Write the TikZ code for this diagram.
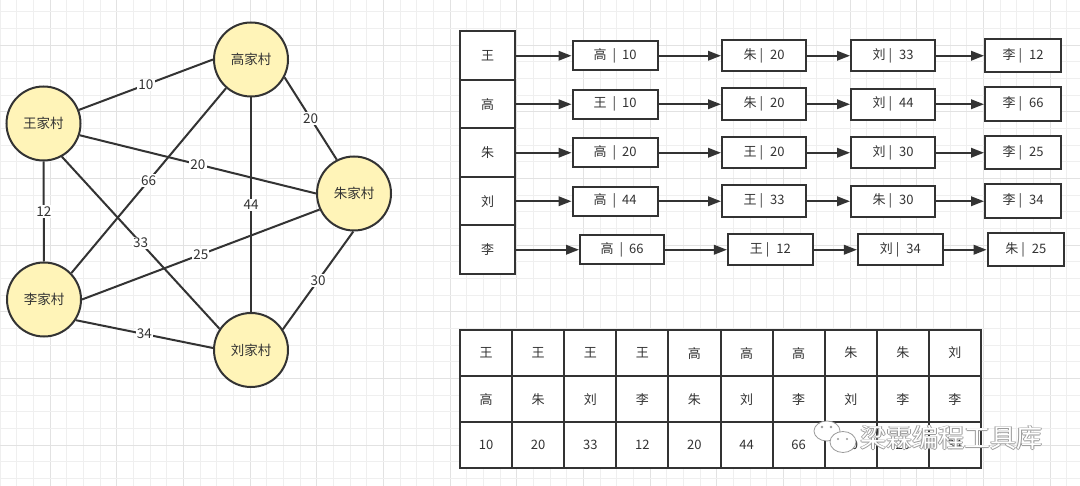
\documentclass[tikz,border=0pt]{standalone}
\usepackage{fontspec}
\setmainfont{Noto Sans CJK SC}
\usetikzlibrary{arrows.meta}
\definecolor{ink}{HTML}{333333}
\definecolor{vfill}{HTML}{FFF4B8}
\definecolor{gminor}{HTML}{EFEFEF}
\definecolor{gmajor}{HTML}{E2E2E2}
\definecolor{wmgray}{HTML}{9A9A9A}
\newcommand\adjA[2]{#1\hspace{6pt}|\hspace{6pt}#2}
\newcommand\adjB[2]{#1\hspace{3pt}|\hspace{7pt}#2}
\begin{document}
\begin{tikzpicture}[x=1pt,y=-1pt,
  village/.style={circle, draw=ink, fill=vfill, line width=2pt, minimum size=74pt, inner sep=0pt, font=\fontsize{13.5}{14}\selectfont, text=ink},
  road/.style={draw=ink, line width=2pt},
  wlabel/.style={fill=white, inner sep=1.2pt, font=\fontsize{13.5}{14}\selectfont, text=ink},
  headcell/.style={rectangle, draw=ink, fill=white, line width=2pt, minimum width=55pt, minimum height=48.5pt, inner sep=0pt, font=\fontsize{13}{14}\selectfont, text=ink},
  edgebox/.style={rectangle, draw=ink, fill=white, line width=2pt, inner sep=0pt, font=\fontsize{13}{14}\selectfont, text=ink},
  link/.style={draw=ink, line width=2pt, -{Triangle[length=13pt,width=9.5pt]}},
  tcell/.style={rectangle, draw=ink, fill=white, line width=2pt, minimum width=52.1pt, minimum height=46.1pt, inner sep=0pt, font=\fontsize{13}{14}\selectfont, text=ink},
  minorline/.style={draw=gminor, line width=0.8pt},
  majorline/.style={draw=gmajor, line width=0.9pt},
  wmtext/.style={inner sep=0pt, font=\fontsize{26}{28}\selectfont},
]
\useasboundingbox (0,0) rectangle (1080,486);
\fill[white] (0,0) rectangle (1080,486);
% background grid
\foreach \i in {0,...,64}{
  \pgfmathsetmacro\gx{\i*16.6667}
  \pgfmathtruncatemacro\m{mod(\i,4)}
  \ifnum\m=3 \draw[majorline] (\gx,0) -- (\gx,486); \else \draw[minorline] (\gx,0) -- (\gx,486); \fi
}
\foreach \j in {0,...,28}{
  \pgfmathsetmacro\gy{11.6667+\j*16.6667}
  \pgfmathtruncatemacro\m{mod(\j,4)}
  \ifnum\m=2 \draw[majorline] (0,\gy) -- (1080,\gy); \else \draw[minorline] (0,\gy) -- (1080,\gy); \fi
}
% graph
\node[village] (gao)  at (251,59.5)  {高家村};
\node[village] (wang) at (43.5,123.5) {王家村};
\node[village] (zhu)  at (354,193.5) {朱家村};
\node[village] (li)   at (44,299.5)  {李家村};
\node[village] (liu)  at (251,350)   {刘家村};
\draw[road] (wang.21)  -- node[wlabel]{10} (gao.180);
\draw[road] (wang.-18) -- node[wlabel]{20} (zhu.180);
\draw[road] (wang.-90) -- node[wlabel]{12} (li.90);
\draw[road] (wang.-61) -- node[wlabel]{33} (liu.146);
\draw[road] (gao.229)  -- node[wlabel]{66} (li.44);
\draw[road] (gao.-90)  -- node[wlabel]{44} (liu.90);
\draw[road] (gao.-28)  -- node[wlabel]{20} (zhu.117);
\draw[road] (zhu.205)  -- node[wlabel]{25} (li.0);
\draw[road] (zhu.-91)  -- node[wlabel]{30} (liu.33);
\draw[road] (li.-33)   -- node[wlabel]{34} (liu.177);
% adjacency list
\foreach \t [count=\r] in {王,高,朱,刘,李}
  \node[headcell] (H\r) at (487.5,{31.5+48.5*(\r-0.5)}) {\t};
\foreach \r/\a/\av/\b/\bv/\c/\cv/\d/\dv in {1/高/10/朱/20/刘/33/李/12, 2/王/10/朱/20/刘/44/李/66, 3/高/20/王/20/刘/30/李/25, 4/高/44/王/33/朱/30/李/34}{
  \pgfmathsetmacro\ry{31.5+48.5*(\r-0.5)}
  \node[edgebox, minimum width=85pt, minimum height=29pt] (B\r-1) at (615,\ry) {\adjA{\a}{\av}};
  \node[edgebox, minimum width=84pt, minimum height=31.5pt] (B\r-2) at (764,\ry) {\adjB{\b}{\bv}};
  \node[edgebox, minimum width=84pt, minimum height=31pt] (B\r-3) at (893,\ry) {\adjB{\c}{\cv}};
  \node[edgebox, minimum width=76pt, minimum height=33.5pt] (B\r-4) at (1023,\ry) {\adjB{\d}{\dv}};
}
\node[edgebox, minimum width=84pt, minimum height=28.5pt] (B5-1) at (622,249.75) {\adjA{高}{66}};
\node[edgebox, minimum width=84.7pt, minimum height=31.5pt] (B5-2) at (770.3,249.75) {\adjB{王}{12}};
\node[edgebox, minimum width=84.7pt, minimum height=31pt] (B5-3) at (900.3,249.75) {\adjB{刘}{34}};
\node[edgebox, minimum width=76.3pt, minimum height=33.5pt] (B5-4) at (1025.8,249.75) {\adjB{朱}{25}};
\foreach \r in {1,...,5}{
  \draw[link] (H\r.east) -- (B\r-1.west);
  \draw[link] (B\r-1.east) -- (B\r-2.west);
  \draw[link] (B\r-2.east) -- (B\r-3.west);
  \draw[link] (B\r-3.east) -- (B\r-4.west);
}
% edge table
\foreach \a/\b/\v [count=\c] in {王/高/10,王/朱/20,王/刘/33,王/李/12,高/朱/20,高/刘/44,高/李/66,朱/刘/30,朱/李/25,刘/李/34}{
  \pgfmathsetmacro\cx{460+52.1*(\c-0.5)}
  \node[tcell] (T-1-\c) at (\cx,353.05) {\a};
  \node[tcell] (T-2-\c) at (\cx,399.15) {\b};
  \node[tcell] (T-3-\c) at (\cx,445.25) {\v};
}
% watermark
\draw[wmgray, fill=white, line width=0.8pt] (827,431) ellipse [x radius=13, y radius=10];
\fill[wmgray] (822,427) circle [radius=1.3] (831,427) circle [radius=1.3];
\draw[wmgray, fill=white, line width=0.8pt] (843,442) ellipse [x radius=13, y radius=10.5];
\fill[wmgray] (838,439) circle [radius=1.2] (847,439) circle [radius=1.2];
\foreach \dx/\dy [count=\k] in {-0.8/0,0.8/0,0/-0.8,0/0.8}
  \node[wmtext, text=wmgray] (wms\k) at ({951.5+\dx},{438+\dy}) {梁霖编程工具库};
\node[wmtext, text=white] (wm) at (951.5,438) {梁霖编程工具库};
\end{tikzpicture}
\end{document}
